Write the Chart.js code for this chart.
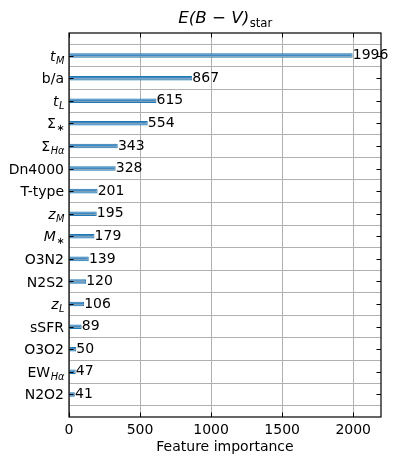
<!DOCTYPE html>
<html>
<head>
<meta charset="utf-8">
<script src="https://cdn.jsdelivr.net/npm/chart.js@4"></script>
<style>
  html, body { margin: 0; padding: 0; background: #fff; }
  canvas { display: block; }
</style>
</head>
<body>
<canvas id="chart" width="399" height="466"></canvas>
<script>
// feature names, top to bottom (plain names; math formatting below)
const features = ['t_M', 'b/a', 't_L', 'Sigma_*', 'Sigma_Ha', 'Dn4000', 'T-type', 'z_M',
    'M_*', 'O3N2', 'N2S2', 'z_L', 'sSFR', 'O3O2', 'EW_Ha', 'N2O2'];
const importance = [1996, 867, 615, 554, 343, 328, 201, 195, 179, 139, 120, 106, 89, 50, 47, 41];
const xTicks = [0, 500, 1000, 1500, 2000];

// rendered label pieces: [text, italic, subscript]
const labelParts = {
    't_M': [['t', 1, 0], ['M', 1, 1]],
    'b/a': [['b/a', 0, 0]],
    't_L': [['t', 1, 0], ['L', 1, 1]],
    'Sigma_*': [['\u03A3', 0, 0], ['\u2217', 0, 1]],
    'Sigma_Ha': [['\u03A3', 0, 0], ['H\u03B1', 1, 1]],
    'Dn4000': [['Dn4000', 0, 0]],
    'T-type': [['T-type', 0, 0]],
    'z_M': [['z', 1, 0], ['M', 1, 1]],
    'M_*': [['M', 1, 0], ['\u2217', 0, 1]],
    'O3N2': [['O3N2', 0, 0]],
    'N2S2': [['N2S2', 0, 0]],
    'z_L': [['z', 1, 0], ['L', 1, 1]],
    'sSFR': [['sSFR', 0, 0]],
    'O3O2': [['O3O2', 0, 0]],
    'EW_Ha': [['EW', 0, 0], ['H\u03B1', 1, 1]],
    'N2O2': [['N2O2', 0, 0]]
};

const FONT = 'DejaVu Sans';
const BASE = 14;

// one empty slot above and below so the axis spans -1..16
const labels = [''].concat(features, ['']);
const values = [null].concat(importance, [null]);

function drawRich(ctx, parts, xRight, yMid, size, align) {
    const sub = size * 0.7;
    const segs = parts.map(p => {
        ctx.font = (p[1] ? 'oblique ' : '') + (p[2] ? sub : size) + 'px "' + FONT + '"';
        return { t: p[0], font: ctx.font, w: ctx.measureText(p[0]).width, sub: p[2] };
    });
    const total = segs.reduce((a, s) => a + s.w, 0);
    let x = align === 'center' ? xRight - total / 2 : xRight - total;
    const baseY = yMid + size * 0.36;
    ctx.textBaseline = 'alphabetic';
    ctx.textAlign = 'left';
    segs.forEach(s => {
        ctx.font = s.font;
        ctx.fillText(s.t, x, s.sub ? baseY + size * 0.22 : baseY);
        x += s.w + (s.sub ? 0 : 0.5);
    });
}

const decor = {
    id: 'decor',
    afterDatasetsDraw(chart) {
        const ctx = chart.ctx;
        const a = chart.chartArea;
        const xs = chart.scales.x, ys = chart.scales.y;
        ctx.save();
        ctx.fillStyle = '#000';
        ctx.strokeStyle = '#000';

        // grid line shows through the middle of each bar
        ctx.strokeStyle = 'rgba(176,176,176,0.55)';
        ctx.lineWidth = 1;
        ctx.beginPath();
        importance.forEach((v, i) => {
            const y = Math.round(ys.getPixelForValue(i + 1)) + 0.5;
            ctx.moveTo(a.left, y); ctx.lineTo(xs.getPixelForValue(v), y);
        });
        ctx.stroke();
        ctx.strokeStyle = '#000';

        // value labels at bar ends
        ctx.font = BASE + 'px "' + FONT + '"';
        ctx.textAlign = 'left';
        ctx.textBaseline = 'middle';
        importance.forEach((v, i) => {
            ctx.fillText(String(v), xs.getPixelForValue(v + 1), ys.getPixelForValue(i + 1));
        });

        // frame
        ctx.lineWidth = 1.2;
        ctx.strokeRect(a.left, a.top, a.right - a.left, a.bottom - a.top);

        // inward tick marks
        ctx.lineWidth = 1;
        ctx.beginPath();
        features.forEach((f, i) => {
            const y = Math.round(ys.getPixelForValue(i + 1)) + 0.5;
            ctx.moveTo(a.left, y); ctx.lineTo(a.left + 4.5, y);
            ctx.moveTo(a.right, y); ctx.lineTo(a.right - 4.5, y);
        });
        xTicks.forEach(t => {
            const x = Math.round(xs.getPixelForValue(t)) + 0.5;
            ctx.moveTo(x, a.bottom); ctx.lineTo(x, a.bottom - 4.5);
            ctx.moveTo(x, a.top); ctx.lineTo(x, a.top + 4.5);
        });
        ctx.stroke();

        // y tick labels with math formatting
        features.forEach((f, i) => {
            drawRich(ctx, labelParts[f], a.left - 5, ys.getPixelForValue(i + 1), BASE);
        });

        // title E(B-V)_star
        drawRich(ctx, [['E(B \u2212 V)', 1, 0], ['star', 0, 1]], (a.left + a.right) / 2, 17, 16.7, 'center');
        ctx.restore();
    }
};

new Chart(document.getElementById('chart'), {
    type: 'bar',
    data: {
        labels: labels,
        datasets: [{
            data: values,
            backgroundColor: '#3f8ac3',
            borderColor: '#1f77b4',
            borderWidth: 1,
            borderSkipped: false,
            categoryPercentage: 1,
            barPercentage: 0.2
        }]
    },
    options: {
        indexAxis: 'y',
        responsive: false,
        animation: false,
        layout: { padding: { top: 33, right: 18, left: 0, bottom: 0 } },
        plugins: { legend: { display: false }, tooltip: { enabled: false } },
        scales: {
            x: {
                type: 'linear',
                min: 0,
                max: Math.max(...importance) * 1.1,
                afterBuildTicks: s => { s.ticks = xTicks.map(v => ({ value: v })); },
                afterFit: s => { s.height = 49; },
                grid: { color: '#b0b0b0', lineWidth: 1, drawTicks: false },
                border: { display: false },
                ticks: {
                    color: '#000', padding: 5, font: { family: FONT, size: BASE },
                    callback: v => String(v)
                },
                title: {
                    display: true,
                    text: 'Feature importance',
                    color: '#000',
                    font: { family: FONT, size: BASE },
                    padding: { top: 0, bottom: 10 }
                }
            },
            y: {
                type: 'category',
                offset: false,
                afterFit: s => { s.width = 69; },
                grid: { color: '#b0b0b0', lineWidth: 1, drawTicks: false },
                border: { display: false },
                ticks: { display: false }
            }
        }
    },
    plugins: [decor]
});
</script>
</body>
</html>
